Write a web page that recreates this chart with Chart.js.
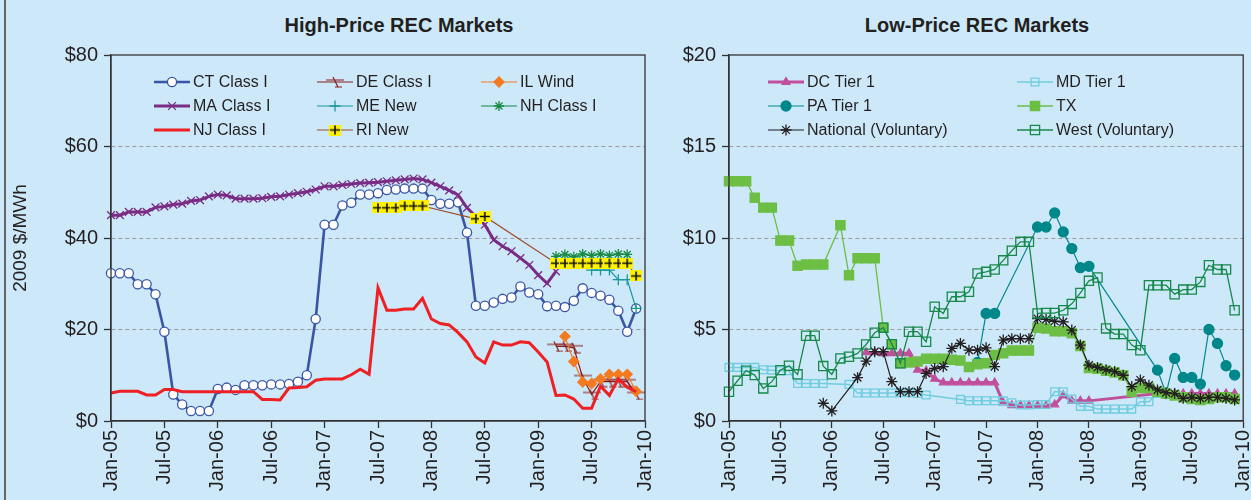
<!DOCTYPE html>
<html>
<head>
<meta charset="utf-8">
<script src="https://cdn.jsdelivr.net/npm/chart.js@4.4.1/dist/chart.umd.min.js"></script>
<style>
  body { margin: 0; width: 1251px; height: 500px; overflow: hidden; position: relative; background: #cde9f9; font-family: "Liberation Sans", Arial, sans-serif; }
  .frame { position: absolute; left: 4px; top: 0; width: 2px; height: 500px; background: #666; }
  .title { position: absolute; top: 13px; width: 400px; text-align: center; font-weight: bold; font-size: 20px; line-height: 24px; color: #231f20; }
  .panel { position: absolute; top: 0; }
</style>
</head>
<body>
<div class="frame"></div>
<div class="title" style="left:199px">High-Price REC Markets</div>
<div class="title" style="left:777px">Low-Price REC Markets</div>
<div class="panel" style="left:0"><canvas id="highChart" width="660" height="500"></canvas></div>
<div class="panel" style="left:660px"><canvas id="lowChart" width="591" height="500"></canvas></div>

<script>
// ------------------- Data -------------------
const _ = null;
const monthNames = ['Jan', 'Feb', 'Mar', 'Apr', 'May', 'Jun', 'Jul', 'Aug', 'Sep', 'Oct', 'Nov', 'Dec'];
const years = ['05', '06', '07', '08', '09', '10'];
const monthLabels = [];
years.forEach(y => monthNames.forEach(m => monthLabels.push(m + '-' + y)));
monthLabels.length = 61; // Jan-05 .. Jan-10

// High-price markets (2009 $/MWh), one value per month Jan-05 .. Dec-09
const ctClassI = [
  32.3, 32.3, 32.3, 29.9, 29.9, 27.7, 19.5, 5.8, 3.6, 2.2, 2.2, 2.2,
  7.0, 7.3, 6.8, 7.8, 7.8, 7.8, 8.0, 8.0, 8.1, 8.6, 10.0, 22.3,
  42.9, 42.9, 47.1, 47.7, 49.5, 49.5, 49.8, 50.5, 50.6, 50.8, 50.8, 50.8,
  48.3, 47.5, 47.5, 47.8, 41.2, 25.2, 25.2, 25.9, 26.7, 27.0, 29.4, 28.1,
  27.7, 25.1, 25.2, 24.9, 26.3, 29.0, 28.0, 27.4, 26.5, 24.1, 19.5, 24.6];
const deClassI = [
  _, _, _, _, _, _, _, _, _, _, _, _,
  _, _, _, _, _, _, _, _, _, _, _, _,
  _, _, _, _, _, _, _, _, _, _, _, _,
  _, _, _, _, _, _, _, _, _, _, _, _,
  _, _, 16.3, 16.3, 16.0, 9.5, 5.8, 8.6, 8.6, 8.6, 8.6, 5.8];
const ilWind = [
  _, _, _, _, _, _, _, _, _, _, _, _,
  _, _, _, _, _, _, _, _, _, _, _, _,
  _, _, _, _, _, _, _, _, _, _, _, _,
  _, _, _, _, _, _, _, _, _, _, _, _,
  _, _, _, 18.5, 13.0, 8.5, 8.2, 9.2, 10.2, 10.2, 10.2, 6.5];
const maClassI = [
  45.0, 45.0, 45.7, 45.7, 45.7, 46.7, 46.9, 47.3, 47.5, 48.1, 48.3, 49.1,
  49.5, 49.3, 48.6, 48.6, 48.6, 48.7, 49.0, 49.1, 49.5, 49.8, 50.1, 50.6,
  51.3, 51.3, 51.6, 51.8, 52.0, 52.1, 52.2, 52.4, 52.6, 52.8, 53.0, 52.8,
  52.1, 51.3, 50.4, 49.4, 46.6, 44.7, 42.9, 39.6, 38.2, 37.1, 35.6, 34.1,
  31.9, 30.1, 32.7, _, _, _, _, _, _, _, _, _];
const meNew = [
  _, _, _, _, _, _, _, _, _, _, _, _,
  _, _, _, _, _, _, _, _, _, _, _, _,
  _, _, _, _, _, _, _, _, _, _, _, _,
  _, _, _, _, _, _, _, _, _, _, _, _,
  _, _, _, _, _, _, 33.0, 33.0, 33.0, 30.9, 30.9, 24.6];
const nhClassI = [
  _, _, _, _, _, _, _, _, _, _, _, _,
  _, _, _, _, _, _, _, _, _, _, _, _,
  _, _, _, _, _, _, _, _, _, _, _, _,
  _, _, _, _, _, _, _, _, _, _, _, _,
  _, _, 36.0, 36.4, 35.9, 36.5, 36.2, 36.5, 36.2, 36.5, 36.4, _];
const njClassI = [
  6.1, 6.5, 6.5, 6.5, 5.7, 5.7, 6.9, 6.9, 6.4, 6.4, 6.4, 6.4,
  6.4, 6.4, 6.4, 6.4, 6.4, 4.7, 4.7, 4.6, 7.2, 7.3, 7.5, 8.9,
  9.2, 9.2, 9.2, 10.1, 11.3, 10.2, 29.1, 24.2, 24.2, 24.5, 24.5, 26.8,
  22.3, 21.3, 21.0, 19.3, 17.3, 14.0, 12.7, 17.3, 16.6, 16.6, 17.3, 17.1,
  15.1, 12.9, 5.6, 5.7, 4.8, 2.8, 2.8, 7.6, 5.6, 9.2, 7.4, 6.4];
const riNew = [
  _, _, _, _, _, _, _, _, _, _, _, _,
  _, _, _, _, _, _, _, _, _, _, _, _,
  _, _, _, _, _, _, 46.6, 46.6, 46.6, 47.0, 47.0, 47.0,
  _, _, _, _, _, 44.2, 44.7, _, _, _, _, _,
  _, _, 34.5, 34.5, 34.5, 34.5, 34.5, 34.5, 34.5, 34.5, 34.5, 31.7];

// Low-price markets
const dcTier1 = [
  _, _, _, _, _, _, _, _, _, _, _, _,
  _, _, _, _, 3.75, 3.75, 3.7, 3.7, 3.7, 3.7, 2.8, 2.75,
  2.3, 2.1, 2.1, 2.1, 2.1, 2.1, 2.1, 2.1, 1.0, 0.85, 0.85, 0.85,
  0.85, 0.85, 0.9, 1.4, 1.1, 1.1, 1.1, _, _, _, _, _,
  _, _, 1.5, 1.5, 1.5, 1.5, 1.5, 1.5, 1.5, 1.5, 1.5, 1.5];
const mdTier1 = [
  2.93, 2.93, 2.93, 2.93, 2.8, 2.78, 2.75, 2.75, 2.05, 2.05, 2.05, 2.05,
  _, _, 2.0, 1.53, 1.53, 1.53, 1.53, 1.53, 1.55, 1.55, 1.5, 1.42,
  _, _, _, 1.18, 1.11, 1.11, 1.11, 1.11, 1.1, 1.0, 0.87, 0.87,
  0.9, 0.9, 1.6, 1.6, 1.2, 0.8, 0.8, 0.65, 0.65, 0.65, 0.65, 0.65,
  1.05, 1.05, 1.5, 1.55, _, _, _, _, _, _, _, _];
const paTier1 = [
  _, _, _, _, _, _, _, _, _, _, _, _,
  _, _, _, _, _, _, _, _, _, _, _, _,
  _, _, _, _, _, 3.2, 5.88, 5.88, _, _, _, _,
  10.6, 10.6, 11.37, 10.33, 9.42, 8.38, 8.45, _, _, _, _, _,
  _, _, 2.78, 1.5, 3.42, 2.38, 2.38, 2.02, 5.0, 4.24, 3.02, 2.51];
const texas = [
  13.1, 13.1, 13.1, 12.2, 11.66, 11.66, 9.86, 9.86, 8.48, 8.55, 8.55, 8.55,
  _, 10.7, 7.97, 8.9, 8.9, 8.9, 5.1, 4.2, 3.15, 3.2, 3.25, 3.4,
  3.4, 3.4, 3.35, 3.3, 2.95, 3.1, 3.15, 3.6, 3.7, 3.85, 3.85, 3.85,
  5.1, 5.05, 4.9, 4.9, 4.8, 4.1, 2.9, 2.85, 2.75, 2.65, 2.5, 1.6,
  1.8, 1.8, 1.6, 1.5, 1.4, 1.3, 1.2, 1.15, 1.2, 1.3, 1.3, 1.2];
const nationalVol = [
  _, _, _, _, _, _, _, _, _, _, _, 0.97,
  0.55, _, _, 2.37, 3.27, 3.79, 3.79, 2.15, 1.6, 1.6, 1.6, 2.6,
  2.87, 2.97, 3.97, 4.24, 3.87, 3.87, 4.0, 2.97, 4.42, 4.5, 4.5, 4.5,
  5.6, 5.55, 5.45, 5.42, 4.97, 4.15, 3.05, 2.93, 2.8, 2.7, 2.5, 1.88,
  2.24, 1.96, 1.7, 1.55, 1.5, 1.24, 1.29, 1.24, 1.29, 1.29, 1.24, 1.15];
const westVol = [
  1.6, 2.2, 2.75, 2.51, 1.78, 2.15, 2.78, 3.02, 2.55, 4.66, 4.66, 3.0,
  2.55, 3.42, 3.51, 3.69, 4.18, 4.82, 5.1, 4.2, 3.15, 4.88, 4.88, 4.33,
  6.24, 5.88, 6.79, 6.79, 7.06, 8.06, 8.15, 8.28, 8.78, 9.3, 9.79, 9.79,
  5.88, 5.9, 5.9, 6.05, 6.4, 7.0, 7.66, 7.84, 5.06, 4.75, 4.75, 4.15,
  3.87, 7.42, 7.42, 7.42, 6.93, 7.18, 7.18, 7.6, 8.51, 8.28, 8.28, 6.05];

const highTicks = [0, 20, 40, 60, 80];
const lowTicks = [0, 5, 10, 15, 20];

// ------------------- Custom markers -------------------
function riMarker() {
  const c = document.createElement('canvas');
  c.width = 12; c.height = 11;
  const g = c.getContext('2d');
  g.fillStyle = '#fff200';
  g.fillRect(0, 0, 12, 11);
  g.strokeStyle = '#111';
  g.lineWidth = 1.6;
  g.beginPath();
  g.moveTo(6, 1); g.lineTo(6, 10);
  g.moveTo(1, 5.5); g.lineTo(11, 5.5);
  g.stroke();
  return c;
}

function deMarker() {
  const c = document.createElement('canvas');
  c.width = 18; c.height = 12;
  const g = c.getContext('2d');
  g.strokeStyle = '#8b1c1c';
  g.lineWidth = 1.2;
  g.beginPath();
  g.moveTo(0, 4); g.lineTo(18, 4);
  g.moveTo(7, 1); g.lineTo(12, 11);
  g.moveTo(9, 11); g.lineTo(16, 11);
  g.stroke();
  return c;
}

// ------------------- Plugins -------------------
const boxPlugin = {
  id: 'plotBox',
  afterDraw(chart) {
    const { ctx, chartArea: a } = chart;
    ctx.save();
    ctx.strokeStyle = '#333';
    ctx.lineWidth = 1.3;
    ctx.strokeRect(a.left, a.top, a.right - a.left, a.bottom - a.top);
    ctx.restore();
  }
};

const legendPlugin = {
  id: 'gridLegend',
  afterDraw(chart, args, opts) {
    const ctx = chart.ctx;
    chart.data.datasets.forEach((ds, i) => {
      const [x, y] = opts.slots[i];
      const len = opts.lineLen;
      ctx.save();
      ctx.strokeStyle = ds.borderColor;
      ctx.lineWidth = ds.borderWidth;
      ctx.beginPath();
      ctx.moveTo(x, y);
      ctx.lineTo(x + len, y);
      ctx.stroke();
      if (ds.pointRadius > 0) {
        ctx.fillStyle = ds.pointBackgroundColor;
        ctx.strokeStyle = ds.pointBorderColor;
        ctx.lineWidth = ds.pointBorderWidth;
        Chart.helpers.drawPoint(ctx, {
          pointStyle: ds.pointStyle, radius: ds.pointRadius, rotation: 0, borderWidth: ds.pointBorderWidth
        }, x + len / 2, y);
      }
      ctx.fillStyle = '#231f20';
      ctx.font = '16px "Liberation Sans", Arial, sans-serif';
      ctx.textBaseline = 'middle';
      ctx.fillText(ds.label, x + len + 3, y + 1);
      ctx.restore();
    });
  }
};

// ------------------- Helpers -------------------
function series(label, data, color, width, style, radius, fill, pointBorder) {
  return {
    label: label,
    data: data,
    borderColor: color,
    borderWidth: width,
    pointStyle: style || 'circle',
    pointRadius: style ? radius : 0,
    pointBackgroundColor: fill || color,
    pointBorderColor: pointBorder || color,
    pointBorderWidth: 1.3,
    spanGaps: true,
    tension: 0
  };
}

function chartOptions(maxVal, stepVal, yWidth, padRight, slots, showTitle) {
  return {
    responsive: false,
    animation: false,
    devicePixelRatio: 1,
    layout: { padding: { left: 4, right: padRight, top: 55, bottom: 0 } },
    plugins: {
      legend: { display: false },
      tooltip: { enabled: false },
      gridLegend: { slots: slots, lineLen: 36 }
    },
    scales: {
      x: {
        type: 'category',
        offset: false,
        afterFit: s => { s.height = 79; s.paddingLeft = 0; s.paddingRight = 0; },
        grid: { drawOnChartArea: false, tickLength: 7, tickColor: '#333', tickWidth: 1.3 },
        border: { display: true, color: '#333', width: 1.3 },
        ticks: {
          autoSkip: false, maxRotation: 90, minRotation: 90, padding: 2,
          color: '#231f20', font: { size: 20, family: '"Liberation Sans", Arial, sans-serif' },
          callback: (v, i) => (i % 6 === 0 ? monthLabels[i] : null)
        }
      },
      y: {
        min: 0, max: maxVal,
        afterFit: s => { s.width = yWidth; s.paddingTop = 0; s.paddingBottom = 0; },
        afterBuildTicks: s => { s.ticks = (maxVal === 80 ? highTicks : lowTicks).map(v => ({ value: v })); },
        grid: {
          color: c => (c.tick && (c.tick.value === 0 || c.tick.value === maxVal) ? 'rgba(0,0,0,0)' : '#9c9c9c'),
          lineWidth: 1, borderDash: [4, 3], tickLength: 7, tickColor: '#333', tickWidth: 1.3, tickBorderDash: []
        },
        border: { display: true, color: '#333', width: 1.3, dash: [4, 3] },
        ticks: {
          stepSize: stepVal, padding: 6, color: '#231f20',
          font: { size: 20, family: '"Liberation Sans", Arial, sans-serif' },
          callback: v => '$' + v
        },
        title: {
          display: showTitle, text: '2009 $/MWh', color: '#231f20',
          font: { size: 19, family: '"Liberation Sans", Arial, sans-serif' },
          padding: { top: 5, bottom: 0 }
        }
      }
    }
  };
}

// ------------------- High-Price chart -------------------
const highSets = [
  series('CT Class I', ctClassI, '#3b55a5', 2.6, 'circle', 4.6, '#ffffff', '#3b55a5'),
  series('DE Class I', deClassI, '#8b1c1c', 1.2, deMarker(), 6),
  series('IL Wind', ilWind, '#f47a20', 1.2, 'rectRot', 5),
  series('MA Class I', maClassI, '#7a2c84', 3, 'crossRot', 5.5),
  series('ME New', meNew, '#17999a', 1.2, 'cross', 5.5),
  series('NH Class I', nhClassI, '#178a45', 1.2, 'star', 5),
  series('NJ Class I', njClassI, '#ee2024', 3, null, 0),
  series('RI New', riNew, '#a04a2a', 1.2, riMarker(), 6)
];
highSets.forEach((d, i) => { d.order = -i; });

new Chart(document.getElementById('highChart'), {
  type: 'line',
  data: { labels: monthLabels, datasets: highSets },
  options: chartOptions(80, 20, 107, 15, [
    [154, 82], [317, 82], [481, 82],
    [154, 106], [317, 106], [481, 106],
    [154, 130], [317, 130]
  ], true),
  plugins: [boxPlugin, legendPlugin]
});

// ------------------- Low-Price chart -------------------
const lowSets = [
  series('DC Tier 1', dcTier1, '#c0509c', 3, 'triangle', 4.5),
  series('MD Tier 1', mdTier1, '#70cde0', 1.5, 'rect', 5.5, 'rgba(0,0,0,0)', '#70cde0'),
  series('PA Tier 1', paTier1, '#00878a', 1.2, 'circle', 5),
  series('TX', texas, '#6cbe45', 1.3, 'rect', 6.5),
  series('National (Voluntary)', nationalVol, '#231f20', 1.2, 'star', 5.5),
  series('West (Voluntary)', westVol, '#16884a', 1.3, 'rect', 6.5, 'rgba(0,0,0,0)', '#16884a')
];
lowSets.forEach((d, i) => { d.order = -i; });

new Chart(document.getElementById('lowChart'), {
  type: 'line',
  data: { labels: monthLabels, datasets: lowSets },
  options: chartOptions(20, 5, 65, 2, [
    [108, 82], [357, 82],
    [108, 106], [357, 106],
    [108, 130], [357, 130]
  ], false),
  plugins: [boxPlugin, legendPlugin]
});
</script>
</body>
</html>
